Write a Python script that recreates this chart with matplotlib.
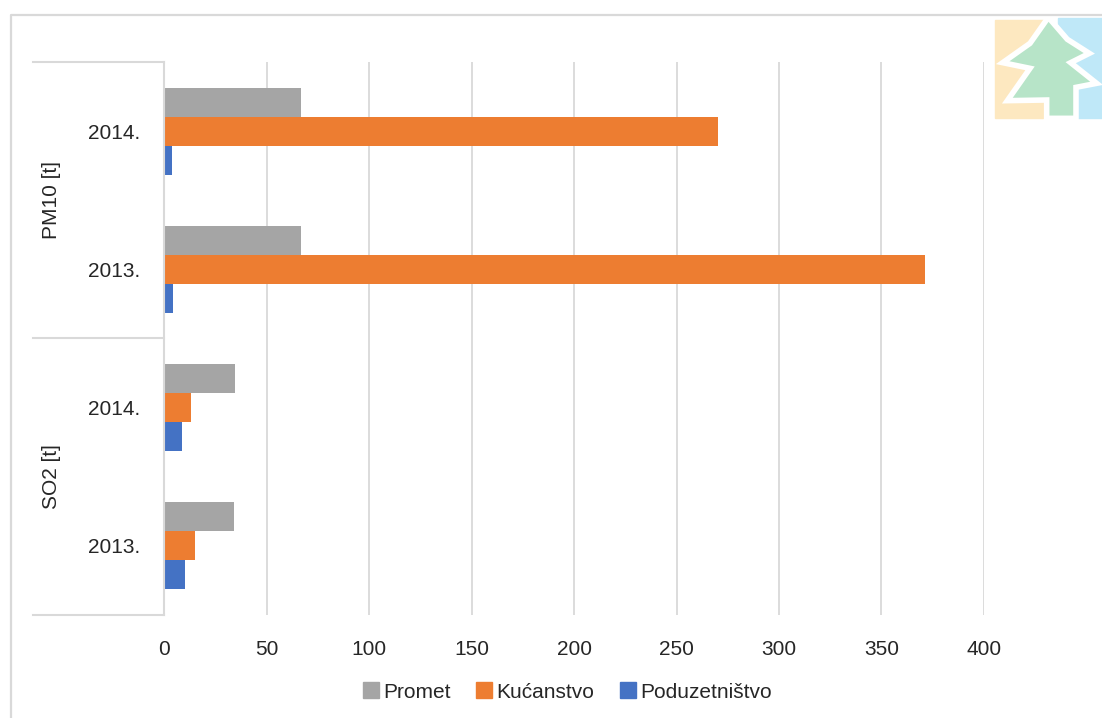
import matplotlib
matplotlib.use('Agg')
import matplotlib.pyplot as plt
from matplotlib.lines import Line2D
from matplotlib.patches import Polygon, Rectangle
import numpy as np

# Data (top to bottom as shown)
groups = ['PM10 [t]', 'SO2 [t]']
years = ['2014.', '2013.', '2014.', '2013.']
series = ['Promet', 'Kućanstvo', 'Poduzetništvo']
promet = [67, 67, 34.6, 34.3]
kucanstvo = [270, 371, 13.2, 15.0]
poduzetnistvo = [4.0, 4.5, 8.6, 10.4]
xticks = [0, 50, 100, 150, 200, 250, 300, 350, 400]

colors = ['#A5A5A5', '#ED7D31', '#4472C4']
grid_c = '#D9D9D9'
txt_c = '#262626'

plt.rcParams['font.family'] = ['Liberation Sans', 'DejaVu Sans']
FS = 15

W, H = 1102, 718
fig = plt.figure(figsize=(W / 100, H / 100), dpi=100)

# plot area in pixels: x 164..984, y 62..615
ax = fig.add_axes([164 / W, 1 - 615 / H, 820 / W, 553 / H])

pos = np.arange(len(years))
bh = 0.21
for vals, off, c in zip([promet, kucanstvo, poduzetnistvo], [-bh, 0, bh], colors):
    ax.barh(pos + off, vals, height=bh, color=c, zorder=3)

ax.set_xlim(0, 400)
ax.set_ylim(len(years) - 0.5, -0.5)
ax.set_xticks(xticks)
ax.set_xticklabels([str(t) for t in xticks], fontsize=FS, color=txt_c)
ax.set_yticks(pos)
ax.set_yticklabels(years, fontsize=FS, color=txt_c)
ax.tick_params(axis='x', length=0, pad=18)
ax.tick_params(axis='y', length=0, pad=17)
ax.grid(axis='x', color=grid_c, linewidth=1.3, zorder=0)
for s in ['top', 'right', 'bottom']:
    ax.spines[s].set_visible(False)
ax.spines['left'].set_color(grid_c)
ax.spines['left'].set_linewidth(1.5)
ax.spines['left'].set_zorder(4)

# hierarchical category box
x0 = (33 - 164) / 820
for yy in [0, 0.5, 1]:
    ax.plot([x0, 0], [yy, yy], transform=ax.transAxes, color=grid_c,
            linewidth=1.5, clip_on=False)
for i, g in enumerate(groups):
    ax.text((52 - 164) / 820, 0.75 - 0.5 * i, g, transform=ax.transAxes,
            rotation=90, ha='center', va='center', fontsize=FS, color=txt_c)

# outer chart border
fig.add_artist(Line2D([11 / W, 11 / W, 1], [0, 1 - 15 / H, 1 - 15 / H],
                      transform=fig.transFigure, color=grid_c, linewidth=1.6))

# legend
handles = [Line2D([], [], marker='s', linestyle='none', markersize=11,
                  markerfacecolor=c, markeredgecolor=c) for c in colors]
fig.legend(handles, series, loc='center', bbox_to_anchor=(567 / W, 1 - 692 / H),
           ncol=3, frameon=False, fontsize=FS, handlelength=0.8,
           handletextpad=0.2, columnspacing=1.2, labelcolor=txt_c)

# logo (top right)
lg = fig.add_axes([980 / W, 1 - 130 / H, 122 / W, 130 / H])
lg.set_xlim(0, 366)
lg.set_ylim(390, 0)
lg.axis('off')
lg.add_patch(Rectangle((45, 60), 145, 295, color='#FDE8C0', zorder=1))
lg.add_patch(Rectangle((235, 55), 140, 300, color='#BFE8F8', zorder=1))
tree = [(205, 52), (262, 118), (328, 160), (272, 188), (350, 250), (288, 262),
        (288, 355), (200, 355), (200, 300), (82, 302), (150, 205), (68, 188),
        (150, 130)]
lg.add_patch(Polygon(tree, closed=True, facecolor='#B7E4C8', edgecolor='white',
                     linewidth=4, zorder=2))

fig.savefig('out.png', dpi=100, facecolor='white')
